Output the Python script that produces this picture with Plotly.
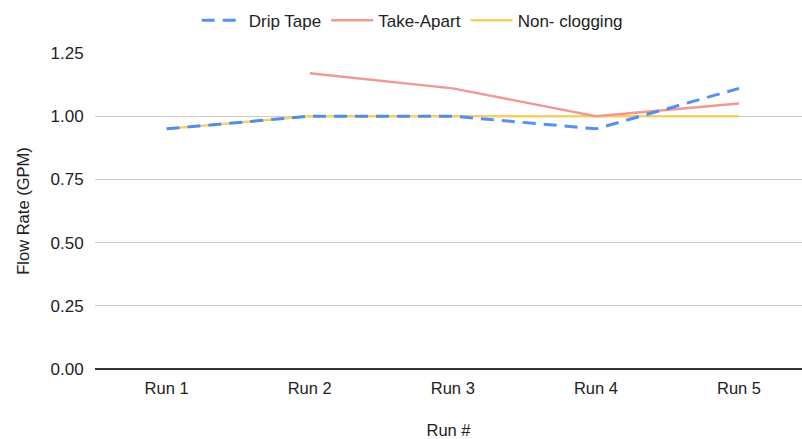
import plotly.graph_objects as go

runs = ["Run 1", "Run 2", "Run 3", "Run 4", "Run 5"]
drip_tape = [0.95, 1.00, 1.00, 0.95, 1.11]
take_apart = [None, 1.17, 1.11, 1.00, 1.05]
non_clogging = [0.95, 1.00, 1.00, 1.00, 1.00]
y_ticks = [0.0, 0.25, 0.5, 0.75, 1.0, 1.25]

font_family = "Liberation Sans, Arial, sans-serif"
text_color = "#222222"

fig = go.Figure()
# drawing order: yellow and salmon underneath, dashed blue on top
fig.add_trace(go.Scatter(
    x=runs, y=non_clogging, name="Non- clogging", mode="lines",
    line=dict(color="rgb(247,208,100)", width=2.4), legendrank=3,
))
fig.add_trace(go.Scatter(
    x=runs, y=take_apart, name="Take-Apart", mode="lines",
    line=dict(color="rgb(240,152,146)", width=2.4), legendrank=2,
))
fig.add_trace(go.Scatter(
    x=runs, y=drip_tape, name="Drip Tape", mode="lines",
    line=dict(color="rgb(66,133,244)", width=3, dash="13px,8px"),
    opacity=0.9, legendrank=1,
))

fig.update_layout(
    width=802, height=439,
    margin=dict(l=95, r=0, t=53, b=67),
    paper_bgcolor="white", plot_bgcolor="white",
    font=dict(family=font_family, size=16, color=text_color),
    showlegend=True,
    legend=dict(
        orientation="h", xref="container", yref="container",
        x=0.514, xanchor="center", y=0.953, yanchor="middle",
        font=dict(size=17, color=text_color), itemwidth=42,
        traceorder="normal",
    ),
    xaxis=dict(
        type="category", categoryorder="array", categoryarray=runs,
        range=[-0.5, 4.44], showgrid=False, zeroline=False,
        showline=False, ticks="outside", ticklen=4, tickcolor="white",
        tickfont=dict(size=16.5, color=text_color),
        title=dict(text="Run #", font=dict(size=16.5, color=text_color), standoff=31),
    ),
    yaxis=dict(
        range=[0, 1.25], tickvals=y_ticks,
        ticktext=[f"{v:.2f}" for v in y_ticks],
        showgrid=True, gridcolor="#cccccc", gridwidth=1,
        zeroline=True, zerolinecolor="#333333", zerolinewidth=1.5,
        showline=False, ticks="outside", ticklen=7, tickcolor="white",
        tickfont=dict(size=17, color=text_color),
        title=dict(text="Flow Rate (GPM)", font=dict(size=16.5, color=text_color), standoff=16),
    ),
)

fig.write_html("out.html")
